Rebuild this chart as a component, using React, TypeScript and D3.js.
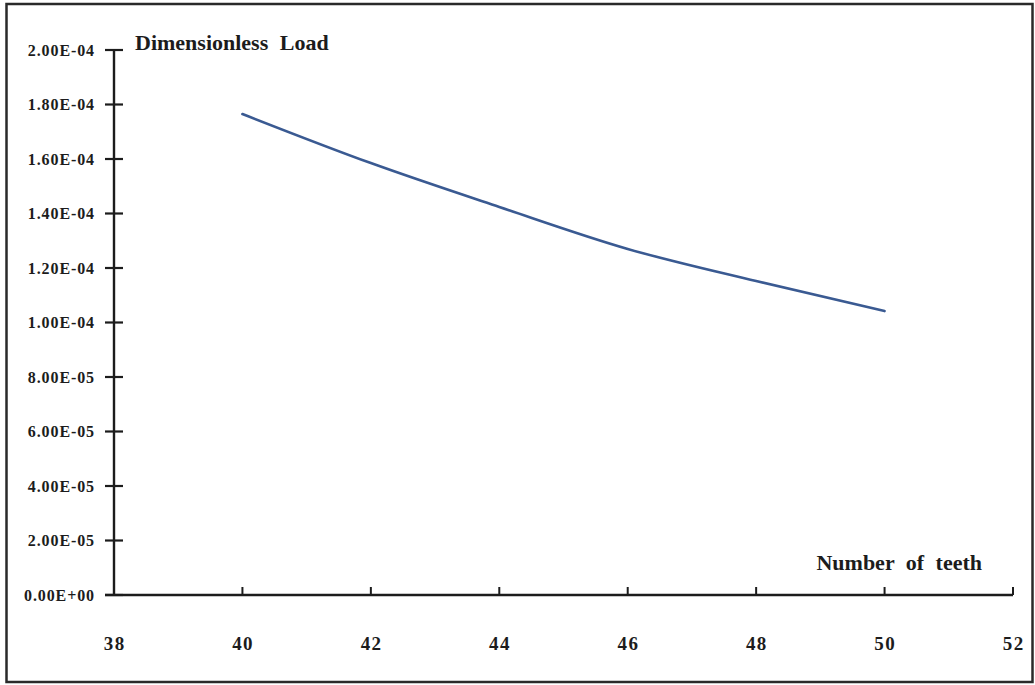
import React from "react";
import * as d3 from "d3";

// Dimensionless load against number of teeth
const teeth = [40, 42, 44, 46, 48, 50];
const load = [1.765e-4, 1.585e-4, 1.424e-4, 1.27e-4, 1.152e-4, 1.042e-4];

const xTicks = [38, 40, 42, 44, 46, 48, 50, 52];
const yTicks = [0, 2e-5, 4e-5, 6e-5, 8e-5, 1e-4, 1.2e-4, 1.4e-4, 1.6e-4, 1.8e-4, 2e-4];
const yTickLabels = [
  "0.00E+00", "2.00E-05", "4.00E-05", "6.00E-05", "8.00E-05", "1.00E-04",
  "1.20E-04", "1.40E-04", "1.60E-04", "1.80E-04", "2.00E-04",
];

const yTitle = "Dimensionless Load";
const xTitle = "Number of teeth";

const W = 1035;
const H = 685;
const ink = "#1c1c1c";
const font = "'Liberation Serif', 'Times New Roman', serif";

export default function App() {
  const x = d3.scaleLinear().domain([38, 52]).range([114, 1013]);
  const y = d3.scaleLinear().domain([0, 2e-4]).range([595, 50]);

  const pts = teeth.map((t, i) => [t, load[i]] as [number, number]);
  const line = d3
    .line<[number, number]>()
    .x((d) => x(d[0]))
    .y((d) => y(d[1]))
    .curve(d3.curveMonotoneX);

  return (
    <svg
      width={W}
      height={H}
      style={{ position: "absolute", left: 0, top: 0, background: "#fff" }}
    >
      <rect x={6.5} y={4} width={1026} height={678} fill="#fff" stroke="#2a2a2a" strokeWidth={2.5} />

      {/* y axis */}
      <line x1={x(38)} x2={x(38)} y1={y(0)} y2={y(2e-4)} stroke={ink} strokeWidth={2.4} />
      {yTicks.map((t, i) => (
        <g key={i}>
          <line x1={x(38) - 9} x2={x(38) + 9} y1={y(t)} y2={y(t)} stroke={ink} strokeWidth={2.2} />
          <text
            x={95}
            y={y(t) + 5.5}
            textAnchor="end"
            fontFamily={font}
            fontWeight="bold"
            fontSize={16}
            letterSpacing={0.9}
            fill={ink}
          >
            {yTickLabels[i]}
          </text>
        </g>
      ))}

      {/* x axis */}
      <line x1={x(38) - 9} x2={x(52)} y1={y(0)} y2={y(0)} stroke={ink} strokeWidth={2.4} />
      {xTicks.map((t) => (
        <g key={t}>
          <line x1={x(t)} x2={x(t)} y1={y(0)} y2={y(0) - 8} stroke={ink} strokeWidth={2} />
          <text
            x={x(t) + 0.7}
            y={650}
            textAnchor="middle"
            fontFamily={font}
            fontWeight="bold"
            fontSize={19}
            letterSpacing={1.4}
            fill={ink}
          >
            {t}
          </text>
        </g>
      ))}

      <text x={135} y={50} fontFamily={font} fontWeight="bold" fontSize={22} fill={ink} wordSpacing={6}>
        {yTitle}
      </text>
      <text
        x={982}
        y={570}
        textAnchor="end"
        fontFamily={font}
        fontWeight="bold"
        fontSize={22}
        fill={ink}
        wordSpacing={6}
      >
        {xTitle}
      </text>

      <path d={line(pts) ?? ""} fill="none" stroke="#3a5a92" strokeWidth={2.6} strokeLinecap="round" />
    </svg>
  );
}
